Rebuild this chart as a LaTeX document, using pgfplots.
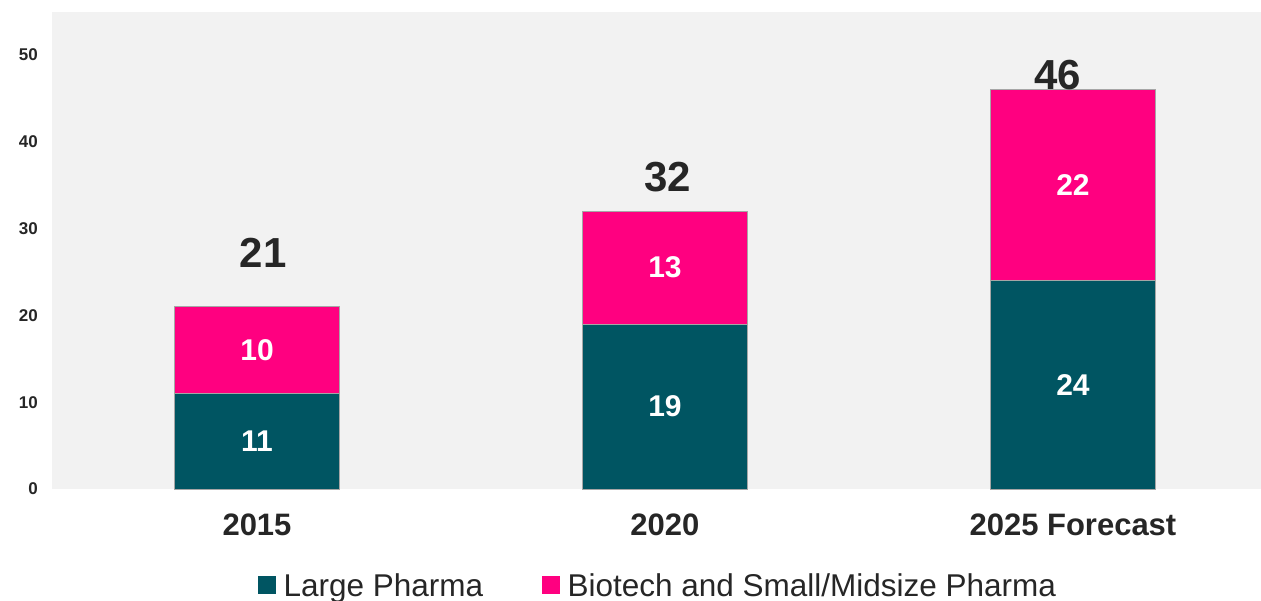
\documentclass[border=0pt]{standalone}
\usepackage{pgfplots}
\pgfplotsset{compat=1.18}
\usepackage{fontspec}
\setmainfont{Liberation Sans}
\definecolor{teal1}{HTML}{005562}
\definecolor{pink1}{HTML}{FF0080}
\definecolor{bg}{HTML}{F2F2F2}
\definecolor{txt}{HTML}{262626}
\tikzset{inl/.style={font=\fontsize{30bp}{30bp}\selectfont\bfseries, text=white, anchor=center},
  tot/.style={font=\fontsize{42bp}{42bp}\selectfont\bfseries, text=txt, anchor=center}}
\begin{document}
\begin{tikzpicture}
\begin{axis}[
  at={(0,0)}, anchor=south west,
  scale only axis,
  width=1209bp, height=477bp,
  xmin=-0.5025, xmax=2.461,
  ymin=0, ymax=54.95,
  ybar stacked,
  bar width=165bp,
  axis background/.style={fill=bg},
  axis line style={draw=none},
  major tick length=0pt,
  xtick={0,1,2},
  xticklabels={2015,2020,2025 Forecast},
  ytick={0,10,20,30,40,50},
  /pgf/number format/assume math mode=true,
  yticklabel style={font=\fontsize{17bp}{17bp}\selectfont\bfseries, text=txt, anchor=east, inner sep=0pt, xshift=-14bp},
  xticklabel style={font=\fontsize{31bp}{31bp}\selectfont\bfseries, text=txt, anchor=north, inner sep=0pt, yshift=-25bp},
  legend columns=2,
  legend style={at={(0.5017,-0.2034)}, anchor=center, draw=none, fill=none,
    font=\fontsize{31.5bp}{31.5bp}\selectfont, text=txt,
    nodes={inner sep=3bp},
    /tikz/every even column/.append style={column sep=56bp}},
  legend image code/.code={\fill[#1,draw=none] (0bp,-8bp) rectangle (18bp,10bp);\path (22bp,0);},
]
\addplot[fill=teal1, draw=gray!70, line width=0.75bp] coordinates {(0,11) (1,19) (2,24)};
\addlegendentry{Large Pharma}
\addplot[fill=pink1, draw=gray!70, line width=0.75bp] coordinates {(0,10) (1,13) (2,22)};
\addlegendentry{Biotech and Small/Midsize Pharma}
\coordinate (a1) at (axis cs:0,5.5);
\coordinate (a2) at (axis cs:1,9.5);
\coordinate (a3) at (axis cs:2,12);
\coordinate (b1) at (axis cs:0,16);
\coordinate (b2) at (axis cs:1,25.5);
\coordinate (b3) at (axis cs:2,35);
\coordinate (t1) at (axis cs:0.015,27.19);
\coordinate (t2) at (axis cs:1.006,35.94);
\coordinate (t3) at (axis cs:1.962,47.64);
\end{axis}
\node[inl] at (a1) {11};
\node[inl] at (a2) {19};
\node[inl] at (a3) {24};
\node[inl] at (b1) {10};
\node[inl] at (b2) {13};
\node[inl] at (b3) {22};
\node[tot] at (t1) {21};
\node[tot] at (t2) {32};
\node[tot] at (t3) {46};
\pgfresetboundingbox
\path[use as bounding box] (-52bp,-112bp) rectangle (1209bp,489bp);
\end{tikzpicture}
\end{document}
